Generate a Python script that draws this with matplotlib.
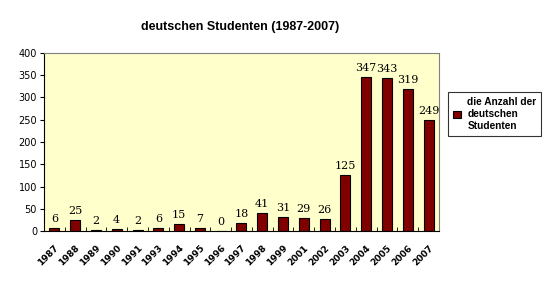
import matplotlib.pyplot as plt
import numpy as np

jahre = ["1987", "1988", "1989", "1990", "1991", "1993", "1994", "1995", "1996", "1997",
         "1998", "1999", "2001", "2002", "2003", "2004", "2005", "2006", "2007"]
anzahl = [6, 25, 2, 4, 2, 6, 15, 7, 0, 18, 41, 31, 29, 26, 125, 347, 343, 319, 249]

fig = plt.figure(figsize=(5.45, 2.84), dpi=100)
ax = fig.add_axes([0.0807, 0.1866, 0.7248, 0.6268])
ax.set_facecolor("#FFFFCC")

x = np.arange(len(jahre))
bars = ax.bar(x, anzahl, width=0.48, color="#800000", edgecolor="black", linewidth=0.8,
              label="die Anzahl der\ndeutschen\nStudenten")
for xi, v in zip(x, anzahl):
    ax.text(xi, v + 9, str(v), ha="center", va="bottom", fontsize=8, family="DejaVu Serif")

ax.set_xlim(-0.5, len(jahre) - 0.5)
ax.set_ylim(0, 400)
ax.set_yticks(range(0, 401, 50))
ax.tick_params(axis="y", labelsize=7, length=3, pad=2)
ax.set_xticks(x)
ax.set_xticklabels(jahre, rotation=45, ha="right", rotation_mode="anchor", fontsize=6.5,
                   fontweight="bold")
ax.tick_params(axis="x", length=0, pad=9)
ax.set_xticks(np.arange(len(jahre) + 1) - 0.5, minor=True)
ax.tick_params(axis="x", which="minor", direction="in", length=3)

for s in ["top", "right"]:
    ax.spines[s].set_color("#808080")
for s in ["left", "bottom"]:
    ax.spines[s].set_color("black")

fig.text(0.44, 0.905, "deutschen Studenten (1987-2007)", ha="center", va="center",
         fontsize=9, fontweight="bold", family="Liberation Sans")

leg = fig.legend(loc="upper left", bbox_to_anchor=(0.822, 0.675),
                 prop={"family": "Liberation Sans", "weight": "bold", "size": 7.3},
                 frameon=True, fancybox=False, edgecolor="black", handlelength=0.8,
                 handleheight=0.8, handletextpad=0.6, borderpad=0.5, borderaxespad=0)
leg.get_frame().set_linewidth(0.8)

fig.savefig("out.png", dpi=100)
